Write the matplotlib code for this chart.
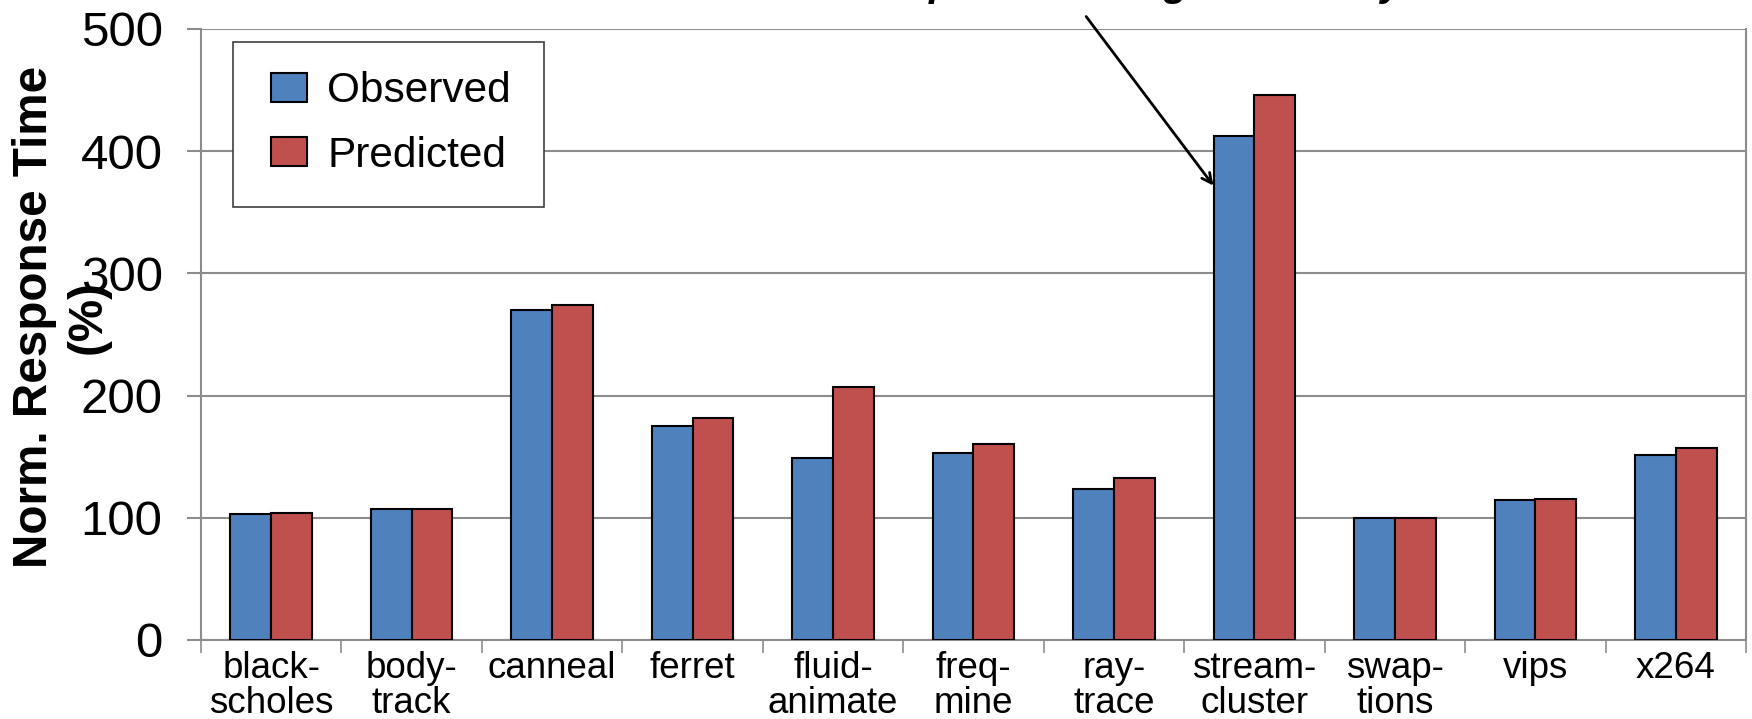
import matplotlib
matplotlib.use("Agg")
import matplotlib.pyplot as plt
from matplotlib.patches import Rectangle
import numpy as np

plt.rcParams['font.family'] = ['Liberation Sans', 'DejaVu Sans']

# Normalized response time per PARSEC benchmark (%)
benchmarks = ["black-\nscholes", "body-\ntrack", "canneal", "ferret", "fluid-\nanimate",
              "freq-\nmine", "ray-\ntrace", "stream-\ncluster", "swap-\ntions", "vips", "x264"]
observed = [103, 107, 270, 175.5, 149, 153, 123.5, 412.5, 100, 114.5, 151]
predicted = [104, 107.5, 274, 182, 207, 160.5, 132.5, 446, 100, 115.5, 157]

blue = "#4F81BD"
red = "#C0504D"
grid_gray = "#8C8C8C"

fig = plt.figure(figsize=(17.52, 7.19), dpi=100)
ax = fig.add_axes([0.1147, 0.1099, 0.9966 - 0.1147, 0.9597 - 0.1099])

x = np.arange(len(benchmarks))
w = 0.29
ax.bar(x - w / 2, observed, w, color=blue, edgecolor="black", linewidth=1.5,
       label="Observed", zorder=3)
ax.bar(x + w / 2, predicted, w, color=red, edgecolor="black", linewidth=1.5,
       label="Predicted", zorder=3)

ax.set_xlim(-0.5, len(benchmarks) - 0.5)
ax.set_ylim(0, 500)
ax.set_yticks([0, 100, 200, 300, 400, 500])
ax.yaxis.grid(True, color=grid_gray, linewidth=1.5, zorder=0)
ax.set_axisbelow(True)

# category labels on major ticks, separators on minor ticks
ax.set_xticks(x)
ax.set_xticklabels(benchmarks, fontsize=26.5, linespacing=0.98)
ax.set_xticks(np.arange(-0.5, len(benchmarks)), minor=True)
ax.tick_params(axis='x', which='major', length=0, pad=8)
ax.tick_params(axis='x', which='minor', length=9.5, width=1.2, color=grid_gray)
ax.tick_params(axis='y', length=10, width=1.5, color=grid_gray, labelsize=35.5, pad=17.6)

for side in ['left', 'bottom', 'right']:
    ax.spines[side].set_color(grid_gray)
    ax.spines[side].set_linewidth(1.5)
ax.spines['top'].set_visible(False)

# legend entries without frame, box drawn separately
leg = ax.legend(loc='upper left', bbox_to_anchor=(0.0456, 0.9305), fontsize=30.5,
                frameon=False, borderpad=0, borderaxespad=0,
                handlelength=0.85, handleheight=0.66, handletextpad=0.47,
                labelspacing=0.57)
leg.set_zorder(5)
ax.add_patch(Rectangle((0.021, 0.709), 0.201, 0.269, transform=ax.transAxes,
                       facecolor="white", edgecolor="#404040", linewidth=1.2, zorder=4))

fig.text(0.035, 0.559, "Norm. Response Time\n(%)", rotation=90, ha='center', va='center',
         multialignment='center', fontsize=34.3, fontweight='bold', linespacing=1.25)

# note about streamcluster, mostly above the top edge
fig.text(900 / 1752, 1 + 4 / 719, "Up to 4.5x longer than any other",
         fontsize=29, fontweight='bold', style='italic', ha='left', va='baseline')
ax.annotate("", xy=(6.72, 370), xytext=(5.79, 512), annotation_clip=False,
            arrowprops=dict(arrowstyle='->,head_length=0.7,head_width=0.35',
                            color='black', lw=2))

fig.savefig("out.png", dpi=100)
